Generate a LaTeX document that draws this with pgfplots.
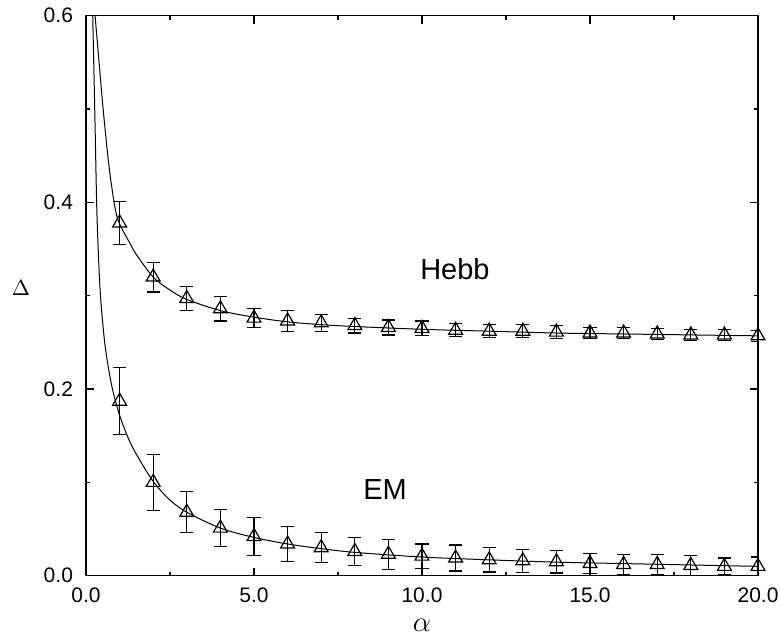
\documentclass[border=0pt]{standalone}
\usepackage{pgfplots}
\pgfplotsset{compat=1.18}
\usepackage{fontspec}
\setmainfont{Liberation Sans}

\begin{document}
\begin{tikzpicture}
\begin{axis}[
    scale only axis,
    width=336pt, height=280pt,
    xmin=0, xmax=20, ymin=0, ymax=0.6,
    xtick={0,5,10,15,20}, minor x tick num=1,
    ytick={0,0.2,0.4,0.6}, minor y tick num=1,
    tick align=inside,
    major tick length=4pt, minor tick length=2pt,
    axis line style={line width=0.6pt},
    every tick/.style={black, line width=0.6pt},
    x tick label style={inner sep=0pt, yshift=-6pt, font=\fontsize{10.5}{12}\selectfont,
        /pgf/number format/.cd, fixed, fixed zerofill, precision=1},
    y tick label style={xshift=-3pt, font=\fontsize{10.5}{12}\selectfont,
        /pgf/number format/.cd, fixed, fixed zerofill, precision=1},
    /pgf/number format/assume math mode=true,
    xlabel={$\alpha$}, ylabel={$\Delta$},
    xlabel style={font=\fontsize{13.5}{14}\selectfont, at={(axis description cs:0.5,0)}, anchor=center, yshift=-25pt, inner sep=0pt},
    ylabel style={font=\fontsize{11}{12}\selectfont, rotate=-90, at={(axis description cs:0,0.513)}, anchor=center, xshift=-32.5pt},
    clip=true,
]
% fitted curves
\addplot[black, line width=0.5pt, smooth] coordinates {
    (0.27,0.60) (0.39,0.55) (0.51,0.50) (0.68,0.44) (0.86,0.395) (1.0,0.377)
    (1.31,0.356) (1.5,0.344) (2,0.320) (2.5,0.306) (3,0.296) (4,0.284)
    (5,0.277) (6,0.272) (7,0.269) (8,0.267) (10,0.264) (12,0.262)
    (14,0.260) (16,0.259) (18,0.258) (20,0.257)
};
\addplot[black, line width=0.5pt, smooth] coordinates {
    (0.20,0.60) (0.26,0.50) (0.32,0.395) (0.38,0.335) (0.44,0.295) (0.55,0.252)
    (0.66,0.224) (0.8,0.198) (1.0,0.172) (1.25,0.148) (1.5,0.130) (2,0.101)
    (2.5,0.081) (3,0.068) (4,0.051) (5,0.041) (6,0.034) (7,0.029)
    (8,0.025) (10,0.020) (12,0.017) (14,0.0145) (16,0.013) (18,0.0115) (20,0.010)
};
% simulation points
\addplot[black, only marks, mark=triangle, mark size=4pt,
    mark options={line width=0.6pt},
    error bars/.cd, y dir=both, y explicit,
    error bar style={line width=0.6pt},
    error mark options={rotate=90, mark size=3.3pt, line width=0.6pt}]
coordinates {
    (1,0.378) +- (0,0.023)
    (2,0.320) +- (0,0.016)
    (3,0.297) +- (0,0.013)
    (4,0.286) +- (0,0.013)
    (5,0.276) +- (0,0.010)
    (6,0.273) +- (0,0.011)
    (7,0.271) +- (0,0.009)
    (8,0.268) +- (0,0.008)
    (9,0.266) +- (0,0.008)
    (10,0.265) +- (0,0.008)
    (11,0.263) +- (0,0.007)
    (12,0.262) +- (0,0.007)
    (13,0.262) +- (0,0.007)
    (14,0.261) +- (0,0.007)
    (15,0.260) +- (0,0.006)
    (16,0.260) +- (0,0.006)
    (17,0.259) +- (0,0.006)
    (18,0.258) +- (0,0.006)
    (19,0.258) +- (0,0.006)
    (20,0.257) +- (0,0.006)
};
\addplot[black, only marks, mark=triangle, mark size=4pt,
    mark options={line width=0.6pt},
    error bars/.cd, y dir=both, y explicit,
    error bar style={line width=0.6pt},
    error mark options={rotate=90, mark size=3.3pt, line width=0.6pt}]
coordinates {
    (1,0.187) +- (0,0.036)
    (2,0.100) +- (0,0.030)
    (3,0.068) +- (0,0.022)
    (4,0.051) +- (0,0.020)
    (5,0.042) +- (0,0.020)
    (6,0.034) +- (0,0.019)
    (7,0.030) +- (0,0.016)
    (8,0.026) +- (0,0.015)
    (9,0.023) +- (0,0.016)
    (10,0.021) +- (0,0.013)
    (11,0.019) +- (0,0.014)
    (12,0.017) +- (0,0.013)
    (13,0.016) +- (0,0.0125)
    (14,0.015) +- (0,0.012)
    (15,0.013) +- (0,0.011)
    (16,0.012) +- (0,0.011)
    (17,0.012) +- (0,0.011)
    (18,0.011) +- (0,0.011)
    (19,0.010) +- (0,0.009)
    (20,0.010) +- (0,0.010)
};
\node[font=\fontsize{14.5}{16}\selectfont] at (axis cs:10.98,0.328) {Hebb};
\node[font=\fontsize{14.5}{16}\selectfont] at (axis cs:8.9,0.092) {EM};
\end{axis}
\pgfresetboundingbox
\path (-43pt,-29.15pt) rectangle (347pt,287.85pt);
\end{tikzpicture}
\end{document}
